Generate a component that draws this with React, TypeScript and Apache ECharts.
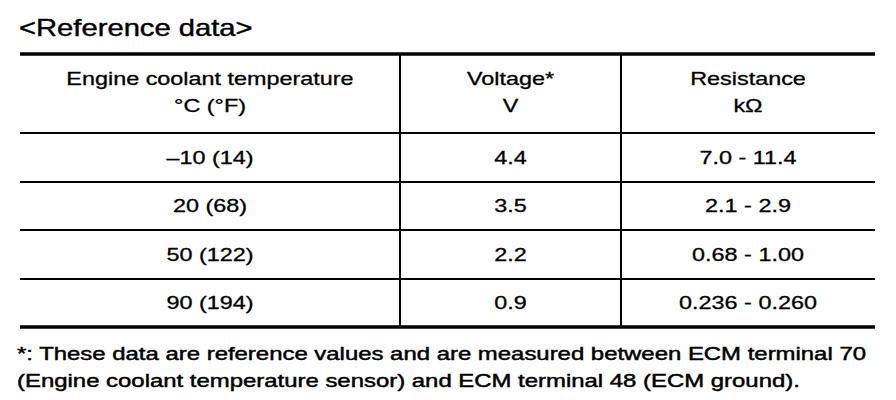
import { useEffect, useRef } from "react";
import * as echarts from "echarts";

// table content
const title = "<Reference data>";
const headerNames = ["Engine coolant temperature", "Voltage*", "Resistance"];
const headerUnits = ["°C (°F)", "V", "kΩ"];
const temperatures = ["–10 (14)", "20 (68)", "50 (122)", "90 (194)"];
const voltages = ["4.4", "3.5", "2.2", "0.9"];
const resistances = ["7.0 - 11.4", "2.1 - 2.9", "0.68 - 1.00", "0.236 - 0.260"];
const footnotes = [
  "*: These data are reference values and are measured between ECM terminal 70",
  "(Engine coolant temperature sensor) and ECM terminal 48 (ECM ground).",
];

// layout
const FONT = "'Liberation Sans', Arial, Helvetica, sans-serif";
const colEdges = [20, 400, 621, 875];
const rowEdges = [54, 133, 182, 230, 279, 327];
const BODY_SIZE = 18;
const BODY_SCALE = 1.3;

function txt(
  text: string,
  x: number,
  y: number,
  size: number,
  scale: number,
  align: "left" | "center",
  weight = 0.3
) {
  return {
    type: "text",
    x,
    y,
    scaleX: scale,
    silent: true,
    style: {
      text,
      fontSize: size,
      fontFamily: FONT,
      fill: "#000",
      stroke: "#000",
      lineWidth: weight,
      textAlign: align,
      textVerticalAlign: "middle",
    },
  };
}

function hline(y: number, w: number) {
  return {
    type: "line",
    silent: true,
    shape: { x1: colEdges[0], y1: y, x2: colEdges[colEdges.length - 1], y2: y },
    style: { stroke: "#000", lineWidth: w },
  };
}

function vline(x: number) {
  return {
    type: "line",
    silent: true,
    shape: { x1: x, y1: rowEdges[0], x2: x, y2: rowEdges[rowEdges.length - 1] },
    style: { stroke: "#000", lineWidth: 2 },
  };
}

export default function App() {
  const ref = useRef<HTMLDivElement>(null);

  useEffect(() => {
    if (!ref.current) return;
    document.body.style.margin = "0";
    const chart = echarts.init(ref.current, undefined, { renderer: "svg" });

    const centers = colEdges.slice(0, -1).map((x, i) => (x + colEdges[i + 1]) / 2);
    const columns = [temperatures, voltages, resistances];
    const elements: any[] = [];

    elements.push(txt(title, 19, 28, 23, 1.27, "left", 0.4));

    // header
    headerNames.forEach((h, i) => elements.push(txt(h, centers[i], 79, BODY_SIZE, BODY_SCALE, "center")));
    headerUnits.forEach((h, i) => elements.push(txt(h, centers[i], 106, BODY_SIZE, BODY_SCALE, "center")));

    // body rows
    columns.forEach((col, c) =>
      col.forEach((v, r) => {
        const yc = (rowEdges[r + 1] + rowEdges[r + 2]) / 2;
        elements.push(txt(v, centers[c], yc, BODY_SIZE, BODY_SCALE, "center"));
      })
    );

    // rules
    rowEdges.forEach((y, i) => elements.push(hline(y, i === 0 || i === rowEdges.length - 1 ? 3.5 : 2)));
    colEdges.slice(1, -1).forEach((x) => elements.push(vline(x)));

    footnotes.forEach((f, i) => elements.push(txt(f, 17, 354 + i * 27, BODY_SIZE, 1.33, "left", 0.45)));

    chart.setOption({
      animation: false,
      backgroundColor: "#fff",
      graphic: { elements },
    });

    return () => chart.dispose();
  }, []);

  return <div ref={ref} style={{ position: "absolute", left: 0, top: 0, width: 896, height: 400 }} />;
}
